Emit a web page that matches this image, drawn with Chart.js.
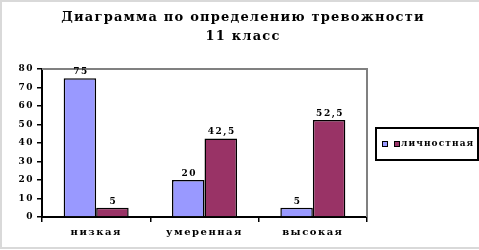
<!DOCTYPE html>
<html>
<head>
<meta charset="utf-8">
<script src="https://cdn.jsdelivr.net/npm/chart.js@4"></script>
<style>
html, body { margin: 0; padding: 0; background: #fff; }
#wrap { width: 479px; height: 250px; }
</style>
</head>
<body>
<div id="wrap"><canvas id="anxiety"></canvas></div>
<script>
const categories = ['низкая', 'умеренная', 'высокая'];
const seriesNames = ['', 'личностная'];
const situational = [75, 20, 5];
const personal = [5, 42.5, 52.5];
const yTicks = [0, 10, 20, 30, 40, 50, 60, 70, 80];
const titleLines = ['Диаграмма по определению тревожности', '11 класс'];

const FONT = '"DejaVu Serif", serif';

// frame, title, plot border, value labels and the boxed legend
const decor = {
    id: 'decor',
    beforeDraw(chart) {
        const ctx = chart.ctx;
        ctx.letterSpacing = '1.5px';
        ctx.save();
        ctx.strokeStyle = '#d9d9d9';
        ctx.lineWidth = 2;
        ctx.beginPath();
        ctx.moveTo(479, 1); ctx.lineTo(1, 1); ctx.lineTo(1, 248); ctx.lineTo(479, 248);
        ctx.stroke();

        ctx.fillStyle = '#000';
        ctx.font = 'bold 13px ' + FONT;
        ctx.letterSpacing = '1.2px';
        ctx.textAlign = 'center';
        ctx.textBaseline = 'middle';
        ctx.fillText(titleLines[0], 243, 18);
        ctx.fillText(titleLines[1], 243, 37);
        ctx.restore();
    },
    beforeDatasetsDraw(chart) {
        const ctx = chart.ctx, a = chart.chartArea;
        ctx.save();
        ctx.strokeStyle = '#808080';
        ctx.lineWidth = 2;
        ctx.beginPath();
        ctx.moveTo(a.left, a.top); ctx.lineTo(a.right, a.top); ctx.lineTo(a.right, a.bottom);
        ctx.stroke();
        ctx.restore();
    },
    afterDatasetsDraw(chart) {
        const ctx = chart.ctx;
        ctx.save();
        ctx.font = 'bold 9px ' + FONT;
        ctx.fillStyle = '#000';
        ctx.textAlign = 'center';
        ctx.textBaseline = 'bottom';
        chart.data.datasets.forEach((ds, i) => {
            chart.getDatasetMeta(i).data.forEach((bar, j) => {
                ctx.fillText(String(ds.data[j]).replace('.', ','), bar.x + 1, bar.y - 2);
            });
        });

        // legend
        ctx.fillStyle = '#fff';
        ctx.strokeStyle = '#000';
        ctx.lineWidth = 2;
        ctx.fillRect(376, 128, 102, 32);
        ctx.strokeRect(376, 128, 102, 32);
        ctx.lineWidth = 1;
        const xs = [382, 394];
        chart.data.datasets.forEach((ds, i) => {
            ctx.fillStyle = ds.backgroundColor;
            ctx.fillRect(xs[i], 141, 5, 5);
            ctx.strokeRect(xs[i] + 0.5, 141.5, 5, 5);
        });
        ctx.fillStyle = '#000';
        ctx.textAlign = 'left';
        ctx.textBaseline = 'middle';
        ctx.font = 'bold 9px ' + FONT;
        ctx.letterSpacing = '1.1px';
        ctx.fillText(chart.data.datasets[1].label, 401, 144);
        ctx.restore();
    }
};

new Chart(document.getElementById('anxiety'), {
    type: 'bar',
    data: {
        labels: categories,
        datasets: [{
            label: seriesNames[0],
            data: situational,
            backgroundColor: '#9999ff',
            borderColor: '#000',
            borderWidth: 1.5
        }, {
            label: seriesNames[1],
            data: personal,
            backgroundColor: '#993366',
            borderColor: '#000',
            borderWidth: 1.5
        }]
    },
    options: {
        responsive: true,
        maintainAspectRatio: false,
        animation: false,
        layout: { padding: { left: 0, right: 112, top: 69, bottom: 0 } },
        datasets: { bar: { categoryPercentage: 0.6, barPercentage: 1 } },
        plugins: {
            legend: { display: false },
            tooltip: { enabled: false },
            title: { display: false }
        },
        scales: {
            y: {
                min: 0,
                max: 80,
                afterBuildTicks(axis) { axis.ticks = yTicks.map(v => ({ value: v })); },
                afterFit(axis) { axis.width = 42; },
                border: { color: '#000', width: 2 },
                grid: { drawOnChartArea: false, color: '#000', lineWidth: 1.5, tickLength: 5 },
                ticks: { color: '#000', padding: 3, font: { family: FONT, size: 9, weight: 'bold' } }
            },
            x: {
                afterFit(axis) { axis.height = 33; },
                border: { color: '#000', width: 2 },
                grid: { drawOnChartArea: false, color: '#000', lineWidth: 1.5, tickLength: 5 },
                ticks: { color: '#000', padding: 4, font: { family: FONT, size: 10, weight: 'bold' } }
            }
        }
    },
    plugins: [decor]
});
</script>
</body>
</html>
